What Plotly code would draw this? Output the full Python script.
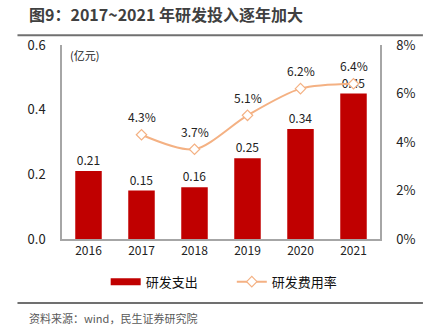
import plotly.graph_objects as go

years = ["2016", "2017", "2018", "2019", "2020", "2021"]
rd_spend = [0.21, 0.15, 0.16, 0.25, 0.34, 0.45]          # 亿元
rd_ratio_years = ["2017", "2018", "2019", "2020", "2021"]
rd_ratio = [4.3, 3.7, 5.1, 6.2, 6.4]                       # %

FONT = "Noto Sans CJK SC, Noto Sans, sans-serif"
BAR_RED = "#C00000"
LINE_ORANGE = "#F4B183"

fig = go.Figure()

fig.add_trace(go.Bar(
    x=years, y=rd_spend, name="研发支出", showlegend=False,
    marker=dict(color=BAR_RED, line=dict(width=0)),
    width=0.5,
    text=[f"{v:.2f}" for v in rd_spend], textposition="outside",
    textfont=dict(size=12, color="#222"),
    cliponaxis=False,
))
# wide legend swatch for the bar series
fig.add_trace(go.Scatter(
    x=[years[0]], y=[None], name="研发支出" + "\u00a0" * 10, mode="lines",
    line=dict(color=BAR_RED, width=7), hoverinfo="skip",
))

fig.add_trace(go.Scatter(
    x=rd_ratio_years, y=rd_ratio, name="研发费用率", yaxis="y2",
    mode="lines+markers",
    line=dict(color=LINE_ORANGE, width=2, shape="spline", smoothing=0.8),
    marker=dict(symbol="diamond", size=8, color="white",
                line=dict(color=LINE_ORANGE, width=1.2)),
    cliponaxis=False,
))

# percentage labels above the line points (category axis -> use category index)
for yr, v in zip(rd_ratio_years, rd_ratio):
    fig.add_annotation(x=years.index(yr), y=v, xref="x", yref="y2", text=f"{v:.1f}%",
                       showarrow=False, yshift=18,
                       font=dict(size=12, color="#222", family=FONT))

fig.update_layout(
    width=434, height=330,
    margin=dict(l=62, r=54, t=45, b=91),
    paper_bgcolor="white", plot_bgcolor="white",
    font=dict(family=FONT, size=12, color="#222"),
    showlegend=True,
    legend=dict(orientation="h", x=0.51, xanchor="center", y=-0.22, yanchor="middle",
                font=dict(size=13, color="#111"), itemwidth=30,
                traceorder="normal"),
    xaxis=dict(type="category", categoryorder="array", categoryarray=years,
               showline=True, linecolor="#A6A6A6", linewidth=1.5,
               ticks="", tickfont=dict(size=12, color="#222"), showgrid=False),
    yaxis=dict(range=[0, 0.6], dtick=0.2, tickformat=".1f",
               showline=True, linecolor="#A6A6A6", linewidth=1.5,
               showgrid=False, zeroline=False, ticks="",
               tickfont=dict(size=13, color="#222"), ticklabelstandoff=12),
    yaxis2=dict(range=[0, 8], dtick=2, ticksuffix="%", overlaying="y", side="right",
                showline=True, linecolor="#A6A6A6", linewidth=1.5,
                showgrid=False, zeroline=False, ticks="",
                tickfont=dict(size=13, color="#222"), ticklabelstandoff=12),
)

# header and footer rules
fig.add_shape(type="line", xref="paper", yref="paper", x0=-0.14, x1=1.135,
              y0=1.05, y1=1.05, line=dict(color="#707070", width=2))
fig.add_shape(type="line", xref="paper", yref="paper", x0=-0.14, x1=1.135,
              y0=-0.33, y1=-0.33, line=dict(color="#707070", width=2))

fig.add_annotation(text="<b>图9：2017~2021 年研发投入逐年加大</b>", xref="paper", yref="paper",
                   x=-0.11, y=1.09, xanchor="left", yanchor="bottom", showarrow=False,
                   font=dict(size=16, color="#404040", family=FONT))
fig.add_annotation(text="(亿元)", xref="paper", yref="paper",
                   x=0.02, y=1.0, xanchor="left", yanchor="top", showarrow=False,
                   font=dict(size=11, color="#222", family=FONT))
fig.add_annotation(text="资料来源：wind，民生证券研究院", xref="paper", yref="paper",
                   x=-0.11, y=-0.355, xanchor="left", yanchor="top", showarrow=False,
                   font=dict(size=11, color="#595959", family=FONT))

fig.write_html("out.html")
